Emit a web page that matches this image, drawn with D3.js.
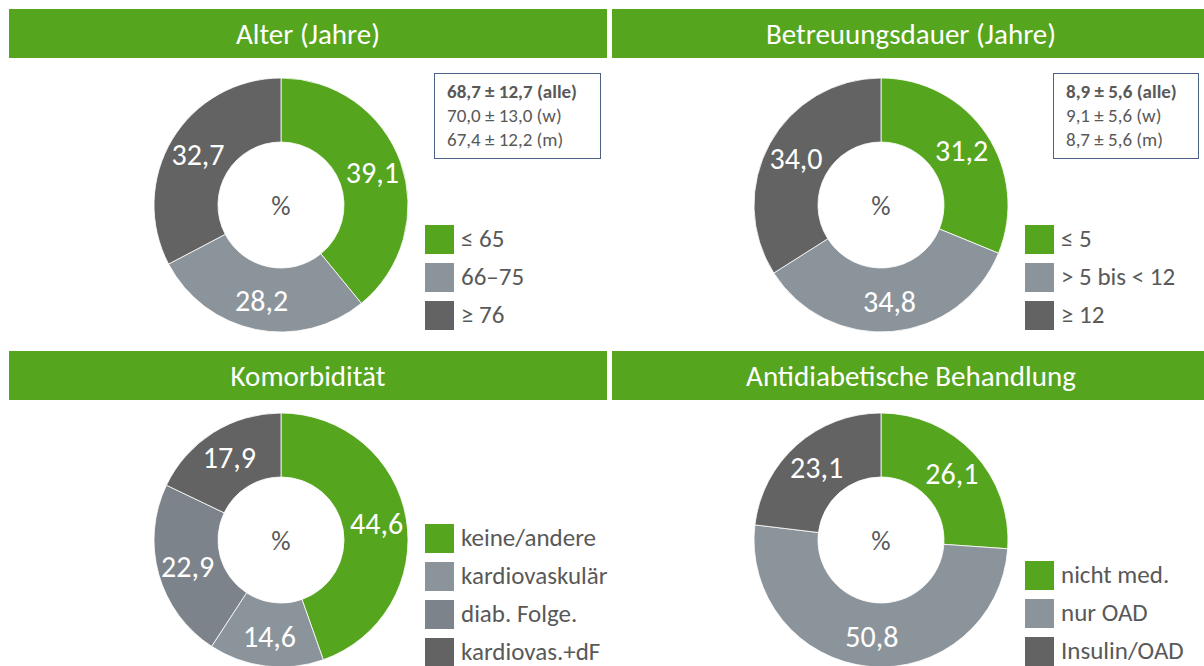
<!DOCTYPE html>
<html><head><meta charset="utf-8">
<script src="https://cdn.jsdelivr.net/npm/d3@7"></script>
<style>
html,body{margin:0;padding:0;background:#fff;}
svg{display:block;font-family:Carlito, Calibri, Lato, "Open Sans", sans-serif;}
</style></head>
<body>
<svg id="chart" width="1204" height="666"></svg>
<script>
const pageTitle = "Verteilung in Gruppen";
const panelTitles = ["Alter (Jahre)", "Betreuungsdauer (Jahre)", "Komorbidität", "Antidiabetische Behandlung"];
const ageCategories = ["≤ 65", "66–75", "≥ 76"];
const ageValues = [39.1, 28.2, 32.7];
const durationCategories = ["≤ 5", "> 5 bis < 12", "≥ 12"];
const durationValues = [31.2, 34.8, 34.0];
const comorbCategories = ["keine/andere", "kardiovaskulär", "diab. Folge.", "kardiovas.+dF"];
const comorbValues = [44.6, 14.6, 22.9, 17.9];
const treatCategories = ["nicht med.", "nur OAD", "Insulin/OAD"];
const treatValues = [26.1, 50.8, 23.1];
const ageStats = ["68,7 ± 12,7 (alle)", "70,0 ± 13,0 (w)", "67,4 ± 12,2 (m)"];
const durationStats = ["8,9 ± 5,6 (alle)", "9,1 ± 5,6 (w)", "8,7 ± 5,6 (m)"];

const GREEN = "#56a51e", LGRAY = "#8c949b", MGRAY = "#7c838a", DGRAY = "#636363", TXT = "#595959";
const colors3 = [GREEN, LGRAY, DGRAY];
const colors4 = [GREEN, LGRAY, MGRAY, DGRAY];

const svg = d3.select("#chart");

// partially visible page title (cut off at the top, as in the reference)
svg.append("text").attr("x", 9).attr("y", -5).attr("fill", GREEN)
  .attr("font-weight", "bold").attr("font-size", 30).text(pageTitle);

const panels = [
  {title: panelTitles[0], cats: ageCategories, vals: ageValues, colors: colors3, hx: 9, hw: 598, hy: 9, cx: 281, cy: 205, lx: 425, ly: 225, stats: ageStats, bx: 434, bw: 166},
  {title: panelTitles[1], cats: durationCategories, vals: durationValues, colors: colors3, hx: 612, hw: 592, hy: 9, cx: 881, cy: 205, lx: 1025, ly: 225, stats: durationStats, bx: 1053, bw: 145},
  {title: panelTitles[2], cats: comorbCategories, vals: comorbValues, colors: colors4, hx: 9, hw: 598, hy: 351, cx: 281, cy: 540, lx: 425, ly: 524},
  {title: panelTitles[3], cats: treatCategories, vals: treatValues, colors: colors3, hx: 612, hw: 592, hy: 351, cx: 881, cy: 540, lx: 1025, ly: 561}
];

const outerR = 127, innerR = 63;
const pie = d3.pie().sort(null).value(d => d);
const arc = d3.arc().innerRadius(innerR).outerRadius(outerR);
const labelArc = d3.arc().innerRadius(innerR + 2).outerRadius(outerR + 2);
const fmt = v => d3.format(".1f")(v).replace(".", ",");

panels.forEach(p => {
  // header
  svg.append("rect").attr("x", p.hx).attr("y", p.hy).attr("width", p.hw).attr("height", 49).attr("fill", GREEN);
  svg.append("text").attr("x", p.hx + 299).attr("y", p.hy + 25).attr("text-anchor", "middle")
    .attr("dominant-baseline", "central").attr("fill", "#fff").attr("font-size", 29).text(p.title);

  // donut
  const g = svg.append("g").attr("transform", `translate(${p.cx},${p.cy})`);
  const arcs = pie(p.vals);
  g.selectAll("path").data(arcs).join("path")
    .attr("d", arc).attr("fill", (d, i) => p.colors[i])
    .attr("stroke", "#fff").attr("stroke-width", 0.8);
  g.selectAll("text.val").data(arcs).join("text").attr("class", "val")
    .attr("transform", d => `translate(${labelArc.centroid(d)})`)
    .attr("text-anchor", "middle").attr("dominant-baseline", "central")
    .attr("fill", "#fff").attr("font-size", 30).text(d => fmt(d.data));
  g.append("text").attr("text-anchor", "middle").attr("dominant-baseline", "central")
    .attr("fill", TXT).attr("font-size", 27).text("%");

  // legend
  const lg = svg.append("g").attr("transform", `translate(${p.lx},${p.ly})`);
  const item = lg.selectAll("g").data(p.cats).join("g")
    .attr("transform", (d, i) => `translate(0,${i * 38})`);
  item.append("rect").attr("width", 29).attr("height", 29).attr("fill", (d, i) => p.colors[i]);
  item.append("text").attr("x", 36).attr("y", 13.5).attr("dominant-baseline", "central")
    .attr("fill", TXT).attr("font-size", 25).text(d => d);

  // stats box
  if (p.stats) {
    svg.append("rect").attr("x", p.bx + 0.5).attr("y", 73.5).attr("width", p.bw).attr("height", 85)
      .attr("fill", "#fff").attr("stroke", "#4a6286").attr("stroke-width", 1);
    p.stats.forEach((s, i) => {
      svg.append("text").attr("x", p.bx + 13).attr("y", 91 + i * 24).attr("dominant-baseline", "central")
        .attr("fill", TXT).attr("font-size", 19).attr("font-weight", i === 0 ? "bold" : "normal").text(s);
    });
  }
});
</script>
</body></html>
